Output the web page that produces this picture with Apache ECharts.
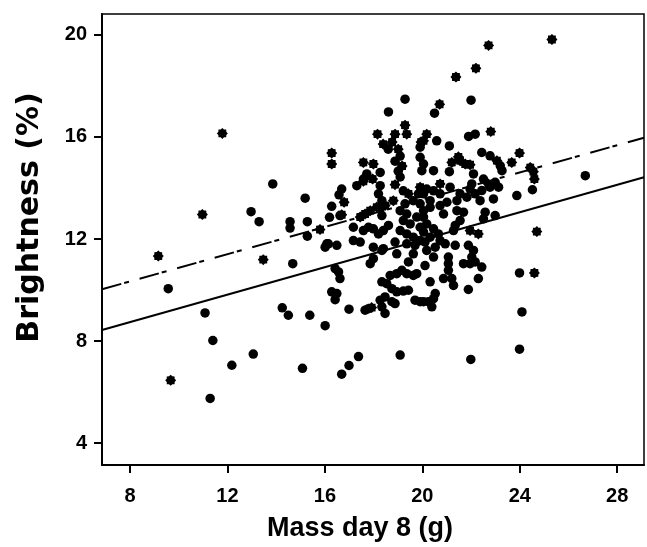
<!DOCTYPE html>
<html>
<head>
<meta charset="utf-8">
<script src="https://cdn.jsdelivr.net/npm/echarts@6/dist/echarts.min.js"></script>
<style>
html,body{margin:0;padding:0;background:#fff;}
#chart{width:647px;height:547px;}
</style>
</head>
<body>
<div id="chart"></div>
<script>
// ---- data ----
var xTicks = [8, 12, 16, 20, 24, 28];
var yTicks = [4, 8, 12, 16, 20];
var xRange = [6.85, 29.1];
var yRange = [3.14, 20.82];
var xTitle = 'Mass day 8 (g)';
var yTitle = 'Brightness (%)';

// regression fits: [intercept, slope]
var solidFit = [6.59, 0.269];
var dashFit = [8.2, 0.267];

// asterisk-marked points [mass, brightness]
var starPoints = [
  [11.79,16.14],[10.97,12.96],[16.28,15.37],[16.28,14.94],[15.8,12.37],[16.79,13.44],[16.69,12.95],
  [9.16,11.33],[9.67,6.46],[13.47,11.19],[24.6,10.67],[24.7,12.29],[25.32,19.82],[22.72,19.59],
  [22.2,18.69],[21.38,18.35],[20.71,17.28],[22.81,16.21],[18.16,16.11],[18.88,16.11],[19.29,16.46],
  [19.36,16.11],[20.18,16.11],[23.99,15.37],[24.56,14.64],[24.6,14.35],[24.43,14.8],[23.67,15.0],
  [17.58,15.0],[17.99,14.94],[17.96,14.35],[18.88,14.13],[17.92,9.31],
  [18.39,15.72],[18.76,15.80],[19.01,15.52],[19.17,14.86],[19.95,15.80],[17.58,14.26],[19.43,13.77],
  [19.91,14.03],[18.81,13.50],[20.05,15.85],[21.48,15.22],[21.55,15.07],[21.76,14.94],[21.96,14.91],
  [23.06,15.07],[22.71,14.16],[20.73,14.16],[17.45,12.86],[17.65,12.98],[17.86,13.11],[18.13,13.25],
  [18.47,13.31],[21.96,12.33],[22.30,12.20],[21.21,15.0]
];

// circle-marked points [mass, brightness]
var circlePoints = [
  [13.86,14.16],[15.19,13.6],[12.97,13.07],[13.3,12.68],[14.57,12.68],[14.57,12.43],[15.28,12.68],
  [15.28,12.11],[16.19,12.85],[16.28,13.28],[16.58,13.73],[16.69,13.96],[16.08,11.81],[16.49,11.75],
  [9.57,10.05],[11.08,9.1],[11.4,8.02],[11.29,5.75],[12.18,7.05],[13.06,7.49],[14.68,11.03],
  [14.25,9.3],[14.5,9.01],[15.38,9.01],[16.01,8.6],[15.08,6.93],[16.69,6.7],[16.99,7.04],[17.38,7.39],
  [19.09,7.45],[21.99,7.28],[23.99,7.68],[23.99,10.67],[24.09,9.14],[16.99,9.25],[17.79,9.27],
  [19.29,17.48],[18.61,16.98],[20.5,16.93],[22.0,17.44],[21.9,16.02],[22.17,16.11],[20.59,15.85],
  [21.11,15.65],[26.69,14.48],[23.88,13.7],[24.52,13.93],[16.42,10.84],[16.56,10.71],[16.62,10.45],
  [16.28,9.93],[16.49,9.86],[16.42,9.62],[16.01,11.68],[16.14,11.81],
  [18.60,15.52],[19.09,15.25],[18.88,15.05],[19.01,14.66],[19.09,14.43],[19.91,15.60],
  [17.72,14.55],[17.58,14.35],[18.27,14.61],[17.31,14.09],[18.27,14.09],[18.20,13.77],[18.34,13.50],
  [18.27,13.25],[19.22,13.89],[19.63,13.50],[19.91,13.38],[19.84,13.77],[19.29,13.38],
  [19.91,15.20],[20.05,14.94],[19.98,14.68],[20.46,14.68],[21.11,14.64],[22.44,15.39],[22.78,15.26],
  [23.20,14.87],[23.27,14.68],[22.10,14.55],[22.51,14.35],[22.99,14.22],[23.13,14.03],[22.03,14.16],
  [21.96,13.96],[22.17,13.77],[21.83,13.64],[21.14,14.03],[20.73,13.77],[20.46,13.89],[20.18,13.96],
  [20.05,13.77],[20.32,13.50],[21.01,13.44],[21.42,13.50],[22.37,13.50],[21.55,13.77],
  [22.44,13.90],[22.92,13.57],[22.78,14.03],
  [16.62,12.92],[17.17,12.46],[17.58,12.33],[17.79,12.46],[17.99,12.40],[18.20,12.20],[18.40,12.33],
  [18.61,12.53],[17.17,11.94],[17.45,11.88],[17.99,11.68],[18.40,11.62],[18.95,11.42],[17.99,11.23],
  [17.86,11.03],[19.43,11.10],[19.63,11.42],[19.70,11.75],[19.09,13.11],[19.36,12.98],[19.22,12.72],
  [19.50,12.59],[19.77,12.86],[19.91,12.46],[19.36,12.20],[19.63,12.07],[19.91,11.94],[19.09,12.33],
  [20.05,13.11],[18.34,12.92],[18.88,11.88],[19.36,11.81],[18.34,11.55],
  [18.68,10.57],[18.95,10.64],[19.16,10.77],[19.36,10.64],[19.63,10.57],[19.77,10.64],[18.54,10.25],
  [18.75,10.05],[18.95,9.93],[19.22,9.96],[19.43,9.99],[18.47,9.73],[18.27,9.60],[18.75,9.54],
  [18.88,9.47],[17.65,9.21],[18.34,9.34],[18.47,9.08],[19.70,9.60],[19.91,9.54],[18.34,10.32],
  [20.32,13.24],[20.73,13.31],[20.87,12.98],[20.05,12.86],[20.18,12.59],[20.46,12.40],[20.66,12.20],
  [20.05,12.27],[20.32,12.07],[20.73,11.94],[20.94,11.81],[20.11,11.88],[20.53,11.68],[21.42,13.11],
  [21.69,13.05],[21.55,12.72],[21.35,12.53],[21.28,12.33],[22.58,13.05],[22.51,12.79],[22.99,12.92],
  [21.35,11.75],[21.89,11.75],[22.10,11.55],[22.03,11.29],[22.17,11.10],[21.96,11.03],[22.44,10.90],
  [20.18,11.55],[20.46,11.29],[20.11,10.96],[21.07,11.29],[21.07,11.03],[21.07,10.77],[21.69,11.03],
  [22.30,10.45],[20.87,10.45],[21.21,10.45],[21.28,10.18],[20.32,10.32],[21.89,10.02],[20.53,9.86],
  [20.46,9.66],[20.25,9.54],[20.39,9.34],[20.05,9.54]
];

// ---- chart ----
function starPath() {
  var pts = [];
  var n = 16;
  for (var i = 0; i < n; i++) {
    var a = i * Math.PI * 2 / n;
    var r = (i % 2 === 0) ? 50 : 39;
    pts.push((50 + r * Math.cos(a)).toFixed(2) + ' ' + (50 + r * Math.sin(a)).toFixed(2));
  }
  return 'path://M' + pts.join(' L') + ' Z';
}
function fitLine(fit) {
  return [
    [xRange[0], fit[0] + fit[1] * xRange[0]],
    [xRange[1], fit[0] + fit[1] * xRange[1]]
  ];
}

var chart = echarts.init(document.getElementById('chart'), null, {renderer: 'canvas'});
var labelFont = {color: '#000', fontFamily: 'Liberation Sans, Arial, sans-serif', fontWeight: 'bold', fontSize: 20};

chart.setOption({
  animation: false,
  backgroundColor: '#fff',
  grid: {left: 102, top: 14, width: 542, height: 453, show: true, borderColor: '#000', borderWidth: 1.5, backgroundColor: 'transparent'},
  xAxis: {
    type: 'value', min: xRange[0], max: xRange[1],
    name: xTitle, nameLocation: 'middle', nameGap: 50,
    nameTextStyle: {color: '#000', fontFamily: 'Liberation Sans, Arial, sans-serif', fontWeight: 'bold', fontSize: 27, padding: [0, 26, 0, 0]},
    axisLine: {show: true, onZero: false, lineStyle: {color: '#000', width: 2}},
    axisTick: {show: true, length: 8, lineStyle: {color: '#000', width: 2}, customValues: xTicks},
    axisLabel: Object.assign({margin: 21, customValues: xTicks}, labelFont),
    splitLine: {show: false}
  },
  yAxis: {
    type: 'value', min: yRange[0], max: yRange[1],
    name: yTitle, nameLocation: 'middle', nameGap: 57,
    nameTextStyle: {color: '#000', fontFamily: 'DejaVu Sans, sans-serif', fontWeight: 'bold', fontSize: 30, padding: [0, 0, 0, 44]},
    axisLine: {show: true, onZero: false, lineStyle: {color: '#000', width: 2}},
    axisTick: {show: true, length: 8, lineStyle: {color: '#000', width: 2}, customValues: yTicks},
    axisLabel: Object.assign({margin: 15, customValues: yTicks}, labelFont),
    splitLine: {show: false}
  },
  series: [
    {type: 'scatter', data: circlePoints, symbol: 'circle', symbolSize: 9.5, itemStyle: {color: '#000', opacity: 1}, z: 2},
    {type: 'scatter', data: starPoints, symbol: starPath(), symbolSize: 11, itemStyle: {color: '#000', opacity: 1}, z: 2},
    {type: 'line', data: fitLine(solidFit), symbol: 'none', lineStyle: {color: '#000', width: 2, type: 'solid'}, z: 3},
    {type: 'line', data: fitLine(dashFit), symbol: 'none', lineStyle: {color: '#000', width: 2, type: [20, 3, 5, 11]}, z: 3}
  ]
});
</script>
</body>
</html>
